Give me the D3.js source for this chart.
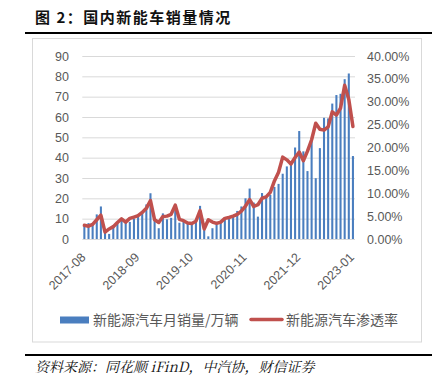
<!DOCTYPE html>
<html><head><meta charset="utf-8">
<script src="https://cdn.jsdelivr.net/npm/d3@7"></script>
<style>body{margin:0;background:#fff;} svg{display:block;}</style>
</head><body>
<script>
const months = [
"2017-08","2017-09","2017-10","2017-11","2017-12",
"2018-01","2018-02","2018-03","2018-04","2018-05","2018-06","2018-07","2018-08","2018-09","2018-10","2018-11","2018-12",
"2019-01","2019-02","2019-03","2019-04","2019-05","2019-06","2019-07","2019-08","2019-09","2019-10","2019-11","2019-12",
"2020-01","2020-02","2020-03","2020-04","2020-05","2020-06","2020-07","2020-08","2020-09","2020-10","2020-11","2020-12",
"2021-01","2021-02","2021-03","2021-04","2021-05","2021-06","2021-07","2021-08","2021-09","2021-10","2021-11","2021-12",
"2022-01","2022-02","2022-03","2022-04","2022-05","2022-06","2022-07","2022-08","2022-09","2022-10","2022-11","2022-12",
"2023-01"];
const sales = [
7.2,7.8,7.3,12.1,16.0,
4.0,2.5,6.8,8.2,10.2,8.4,8.4,10.1,12.1,13.8,17.0,22.5,
9.6,5.3,12.6,9.7,10.4,15.2,8.0,8.5,8.0,7.5,9.5,16.3,
4.4,1.3,5.3,7.2,8.2,10.4,9.8,10.9,13.8,16.0,20.0,24.8,
17.9,11.0,22.6,20.6,21.7,25.6,27.1,32.1,35.7,38.3,45.0,53.1,
43.1,33.4,48.4,29.9,44.7,59.6,59.3,66.6,70.8,71.4,78.6,81.4,
40.8];
const penetration = [
3.0,2.8,3.2,4.2,5.2,
1.5,2.2,2.7,3.6,4.4,3.7,4.5,4.8,5.1,5.8,6.7,8.4,
4.2,3.6,4.9,5.0,5.4,7.4,4.3,4.0,3.5,3.4,3.9,6.2,
2.2,4.2,3.7,3.4,3.7,4.5,4.7,5.0,5.4,6.1,7.2,8.6,
7.1,7.5,8.9,9.2,10.2,12.7,14.6,17.9,17.3,16.4,17.8,19.0,
17.1,19.2,21.7,25.3,24.0,23.8,24.5,27.8,27.1,28.6,33.6,30.5,
24.6];
const xTickLabels = ["2017-08","2018-09","2019-10","2020-11","2021-12","2023-01"];
const leftTicks = [0,10,20,30,40,50,60,70,80,90];
const rightTicks = [0,5,10,15,20,25,30,35,40];
const seriesNames = ["新能源汽车月销量/万辆","新能源汽车渗透率"];
const titleText = "图 2：国内新能车销量情况";
const sourceText = "资料来源：同花顺 iFinD，中汽协，财信证券";

const W = 443, H = 388;
const blue = "#4A7EBF", red = "#C0504D", gray = "#595959";
const axisFont = "'Liberation Sans', Arial, sans-serif";
const cjkFont = "'Noto Sans CJK SC', sans-serif";

const svg = d3.select("body").append("svg").attr("width", W).attr("height", H);

// header
svg.append("text").attr("x", 35).attr("y", 23)
  .attr("font-family", cjkFont).attr("font-weight", "bold").attr("font-size", 15)
  .attr("letter-spacing", "1.5px").attr("fill", "#111").text(titleText);
svg.append("line").attr("x1", 25).attr("x2", 432).attr("y1", 33).attr("y2", 33)
  .attr("stroke", "#000").attr("stroke-width", 1.8);
svg.append("rect").attr("x", 32.5).attr("y", 38.5).attr("width", 389).attr("height", 303.5)
  .attr("fill", "#fff").attr("stroke", "#D9D9D9").attr("stroke-width", 1);
svg.append("line").attr("x1", 25).attr("x2", 432).attr("y1", 355).attr("y2", 355)
  .attr("stroke", "#000").attr("stroke-width", 1.8);
svg.append("text").attr("x", 35).attr("y", 372)
  .attr("font-family", "'Noto Serif CJK SC', 'Noto Sans CJK SC', serif").attr("font-style", "italic")
  .attr("font-size", 14).attr("fill", "#111").text(sourceText);

// scales
const x = d3.scaleBand().domain(months).range([82.3, 355]).paddingInner(0.5).paddingOuter(0.25);
const yL = d3.scaleLinear().domain([0, 90]).range([239, 56]);
const yR = d3.scaleLinear().domain([0, 40]).range([239, 56]);

// gridlines
const grid = svg.append("g").attr("transform", "translate(82.3,0)")
  .call(d3.axisLeft(yL).tickValues(leftTicks).tickSize(-(355 - 82.3)).tickFormat(""));
grid.select(".domain").remove();
grid.selectAll("line").attr("stroke", "#D9D9D9").attr("stroke-width", 1);

// left axis
const gl = svg.append("g").attr("transform", "translate(69,0)")
  .call(d3.axisLeft(yL).tickValues(leftTicks).tickSize(0).tickPadding(0).tickFormat(d3.format("d")));
gl.select(".domain").remove();
gl.selectAll("text").attr("font-family", axisFont).attr("font-size", 12.5).attr("fill", gray);

// right axis
const gr = svg.append("g").attr("transform", "translate(367,0)")
  .call(d3.axisRight(yR).tickValues(rightTicks).tickSize(0).tickPadding(0).tickFormat(d => d.toFixed(2) + "%"));
gr.select(".domain").remove();
gr.selectAll("text").attr("font-family", axisFont).attr("font-size", 12.5).attr("fill", gray);

// bars
svg.append("g").selectAll("rect").data(months).join("rect")
  .attr("x", (m) => x(m)).attr("width", x.bandwidth())
  .attr("y", (m, i) => yL(sales[i])).attr("height", (m, i) => yL(0) - yL(sales[i]))
  .attr("fill", blue);

// line
const line = d3.line().x((d, i) => x(months[i]) + x.bandwidth() / 2).y(d => yR(d)).curve(d3.curveLinear);
svg.append("path").datum(penetration).attr("d", line)
  .attr("fill", "none").attr("stroke", red).attr("stroke-width", 3.5).attr("stroke-linejoin", "round").attr("stroke-linecap", "round");

// x labels
const xl = svg.append("g");
xl.selectAll("text").data(xTickLabels).join("text")
  .attr("transform", d => `translate(${x(d) + x.bandwidth() / 2 + 2},258) rotate(-45)`)
  .attr("text-anchor", "end")
  .attr("font-family", axisFont).attr("font-size", 12.5).attr("fill", gray).text(d => d);

// legend
const lg = svg.append("g");
lg.append("rect").attr("x", 60).attr("y", 316.5).attr("width", 29).attr("height", 7).attr("fill", blue);
lg.append("text").attr("x", 93).attr("y", 324.5).attr("font-family", cjkFont).attr("font-size", 14)
  .attr("fill", gray).text(seriesNames[0]);
lg.append("line").attr("x1", 251).attr("x2", 282).attr("y1", 319.5).attr("y2", 319.5)
  .attr("stroke", red).attr("stroke-width", 3.5).attr("stroke-linecap", "round");
lg.append("text").attr("x", 286).attr("y", 324.5).attr("font-family", cjkFont).attr("font-size", 14)
  .attr("fill", gray).text(seriesNames[1]);
</script>
</body></html>
